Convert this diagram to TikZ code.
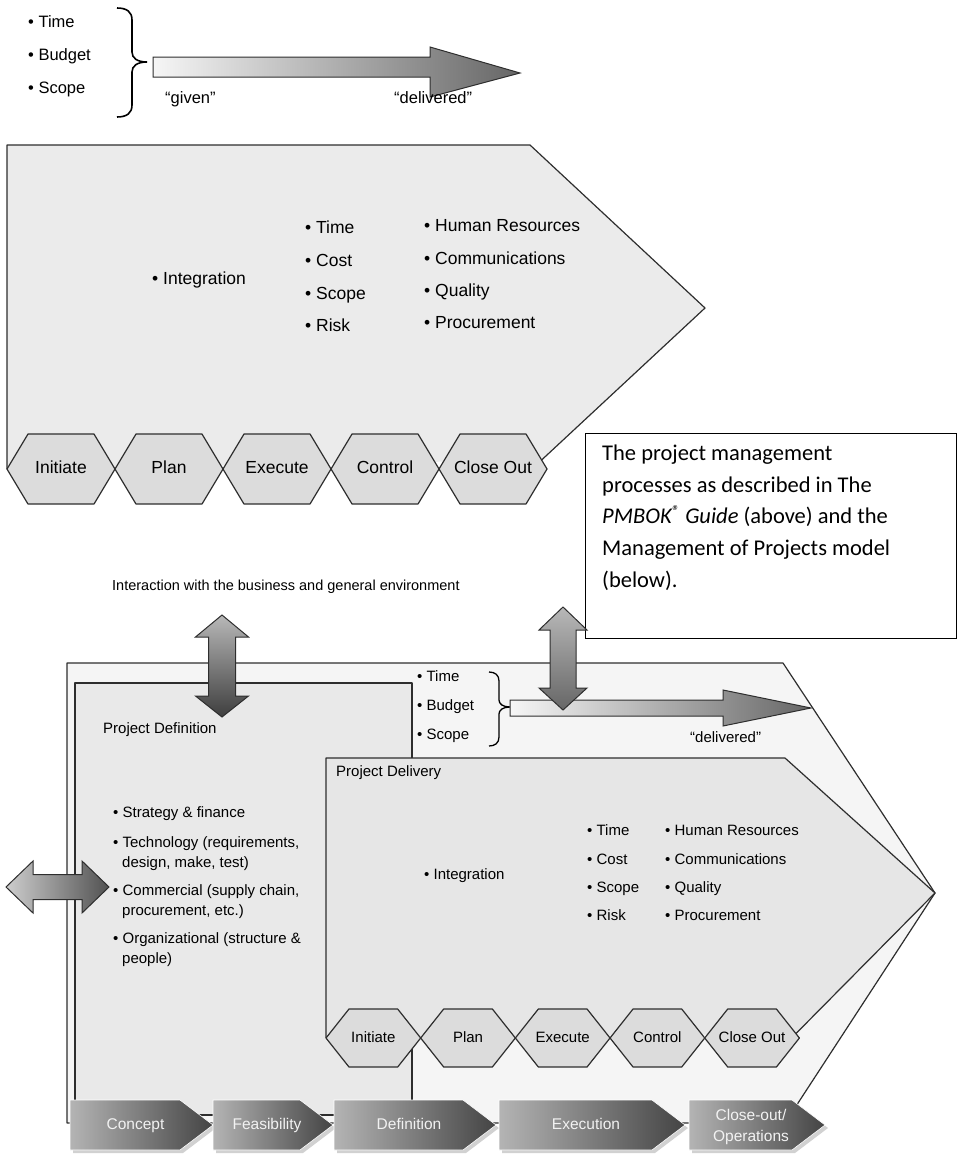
\documentclass[tikz,border=0pt]{standalone}
\usepackage{fontspec}
\setmainfont{Liberation Sans}
\newfontfamily\notefont{Carlito}
\newcommand\setfs[1]{\fontsize{#1}{#1}\selectfont}
\definecolor{edge}{HTML}{2E2E2E}
\definecolor{panel}{HTML}{EBEBEB}
\definecolor{hexfill}{HTML}{DCDCDC}
\definecolor{framefill}{HTML}{F5F5F5}
\definecolor{defbox}{HTML}{E9E9E9}
\definecolor{delfill}{HTML}{E6E6E6}
\definecolor{shaftlight}{HTML}{F6F6F6}
\definecolor{shaftdark}{HTML}{666666}
\definecolor{vlight}{HTML}{B8B8B8}
\definecolor{vdark}{HTML}{3E3E3E}
\definecolor{phaselight}{HTML}{B4B4B4}
\definecolor{phasedark}{HTML}{444444}
\definecolor{phasetext}{HTML}{F2F2F2}
\begin{document}
\begin{tikzpicture}[x=1pt, y=-1pt,
  outline/.style={draw=edge, line width=1.2pt, line join=round},
  hexbox/.style={outline, fill=hexfill},
  blockarrow/.style={draw=edge, line width=1pt, line join=miter},
  bracestroke/.style={draw=black, line width=1.6pt},
  bigtxt/.style={anchor=mid west, inner sep=0pt, font=\setfs{17.5}},
  tbstxt/.style={anchor=mid west, inner sep=0pt, font=\setfs{16.5}},
  smalltxt/.style={anchor=mid west, inner sep=0pt, font=\setfs{15}},
  toplbl/.style={anchor=mid, inner sep=0pt, font=\setfs{17.5}},
  lowlbl/.style={anchor=mid, inner sep=0pt, font=\setfs{15}},
  notetxt/.style={anchor=mid west, inner sep=0pt, font=\notefont\setfs{22.5}},
  phasetxt/.style={inner sep=0pt, align=center, text=phasetext, font=\fontsize{15.5}{21}\selectfont},
]
\useasboundingbox (0,0) rectangle (957,1159);

% ---------- upper model: triple constraint ----------
\node[tbstxt] (tTime)   at (28,25) {\textbullet\ Time};
\node[tbstxt] (tBudget) at (28,58) {\textbullet\ Budget};
\node[tbstxt] (tScope)  at (28,91) {\textbullet\ Scope};
\draw[bracestroke] (117,8) .. controls (127,8) and (132,12) .. (132,20) -- (132,52)
  .. controls (132,58) and (137,62) .. (147,62)
  .. controls (137,62) and (132,66) .. (132,72) -- (132,105)
  .. controls (132,113) and (127,117) .. (117,117);
\path[blockarrow, left color=shaftlight, right color=shaftdark]
  (153,57) -- (430,57) -- (430,47) -- (520,73) -- (430,97) -- (430,77) -- (153,77) -- cycle;
\node[tbstxt] (tGiven) at (165,101) {“given”};
\node[tbstxt] (tDeliv) at (394,101) {“delivered”};

% ---------- upper model: knowledge areas ----------
\fill[panel] (7,469) -- (7,145) -- (530,145) -- (705,308) -- (541.6,460) -- cycle;
\draw[outline] (7,469) -- (7,145) -- (530,145) -- (705,308) -- (541.6,460);
\node[bigtxt] (uInt)  at (152,282) {\textbullet\ Integration};
\node[bigtxt] (uTime) at (305,231) {\textbullet\ Time};
\node[bigtxt] (uCost) at (305,264) {\textbullet\ Cost};
\node[bigtxt] (uScop) at (305,297) {\textbullet\ Scope};
\node[bigtxt] (uRisk) at (305,329) {\textbullet\ Risk};
\node[bigtxt] (uHR)   at (424,229) {\textbullet\ Human Resources};
\node[bigtxt] (uCom)  at (424,262) {\textbullet\ Communications};
\node[bigtxt] (uQual) at (424,294) {\textbullet\ Quality};
\node[bigtxt] (uProc) at (424,326) {\textbullet\ Procurement};
\foreach \txt [count=\i from 0] in {Initiate,Plan,Execute,Control,Close Out}{
  \pgfmathsetmacro\xa{7+108*\i}
  \draw[hexbox] (\xa,469) -- ++(21,-35) -- ++(66,0) -- ++(21,35) -- ++(-21,35) -- ++(-66,0) -- cycle;
  \node[toplbl] (up\i) at (\xa+54,471) {\txt};
}

% ---------- caption box ----------
\node[draw=black, line width=1pt, fill=white, anchor=north west, inner sep=0pt,
      minimum width=371pt, minimum height=205pt] (notebox) at (585,433) {};
\node[notetxt] (n1) at (602,458) {The project management};
\node[notetxt] (n2) at (602,490) {processes as described in The};
\node[notetxt] (n3) at (602,521) {\textit{PMBOK\textsuperscript{®} Guide} (above) and the};
\node[notetxt] (n4) at (602,553) {Management of Projects model};
\node[notetxt] (n5) at (602,585) {(below).};

% ---------- lower model ----------
\node[anchor=mid west, inner sep=0pt, font=\setfs{14.5}] (env) at (112,588)
  {Interaction with the business and general environment};

% outer frame and project definition
\draw[outline, fill=framefill] (67,663) -- (783,663) -- (935,893) -- (785,1123) -- (67,1123) -- cycle;
\draw[outline, fill=defbox] (75,683) rectangle (412,1115);
\node[smalltxt] (pdef) at (103,731) {Project Definition};
\node[smalltxt] (d1)  at (113,815) {\textbullet\ Strategy \& finance};
\node[smalltxt] (d2)  at (113,845) {\textbullet\ Technology (requirements,};
\node[smalltxt] (d2b) at (122,865) {design, make, test)};
\node[smalltxt] (d3)  at (113,893) {\textbullet\ Commercial (supply chain,};
\node[smalltxt] (d3b) at (122,913) {procurement, etc.)};
\node[smalltxt] (d4)  at (113,941) {\textbullet\ Organizational (structure \&};
\node[smalltxt] (d4b) at (122,961) {people)};

% business interaction arrow (left)
\path[blockarrow, top color=vlight, bottom color=vdark]
  (222,615) -- (248.5,637) -- (235.5,637) -- (235.5,696) -- (248.5,696) -- (222,717)
  -- (195.5,696) -- (208.5,696) -- (208.5,637) -- (195.5,637) -- cycle;

% triple constraint of the lower model
\node[smalltxt] (lTime)   at (417,679) {\textbullet\ Time};
\node[smalltxt] (lBudget) at (417,708) {\textbullet\ Budget};
\node[smalltxt] (lScope)  at (417,737) {\textbullet\ Scope};
\draw[bracestroke, line width=1.3pt] (489,672) .. controls (495,672) and (499,675) .. (499,681) -- (499,700)
  .. controls (499,704) and (503,707) .. (510,707)
  .. controls (503,707) and (499,710) .. (499,714) -- (499,737)
  .. controls (499,743) and (495,746) .. (489,746);
\path[blockarrow, left color=shaftlight, right color=shaftdark]
  (510,700) -- (723,700) -- (723,690) -- (811,708) -- (723,726) -- (723,716) -- (510,716) -- cycle;
\node[smalltxt] (lDeliv) at (690,740) {“delivered”};

% business interaction arrow (right)
\path[blockarrow, top color=vlight, bottom color=shaftdark]
  (563,607) -- (587,630) -- (576,630) -- (576,688) -- (587,688) -- (563,710)
  -- (539,688) -- (550,688) -- (550,630) -- (539,630) -- cycle;

% project delivery
\fill[delfill] (326,1038) -- (326,758) -- (785,758) -- (935,893) -- (796,1033.5) -- cycle;
\draw[outline] (326,1038) -- (326,758) -- (785,758) -- (935,893) -- (796,1033.5);
\node[smalltxt] (pdel) at (336,774) {Project Delivery};
\node[smalltxt] (lInt)  at (424,877) {\textbullet\ Integration};
\node[smalltxt] (lT)    at (587,833) {\textbullet\ Time};
\node[smalltxt] (lC)    at (587,862) {\textbullet\ Cost};
\node[smalltxt] (lS)    at (587,890) {\textbullet\ Scope};
\node[smalltxt] (lR)    at (587,918) {\textbullet\ Risk};
\node[smalltxt] (lHR)   at (665,833) {\textbullet\ Human Resources};
\node[smalltxt] (lCom)  at (665,862) {\textbullet\ Communications};
\node[smalltxt] (lQual) at (665,890) {\textbullet\ Quality};
\node[smalltxt] (lProc) at (665,918) {\textbullet\ Procurement};
\foreach \txt [count=\i from 0] in {Initiate,Plan,Execute,Control,Close Out}{
  \pgfmathsetmacro\xb{326+94.68*\i}
  \draw[hexbox] (\xb,1038) -- ++(23,-29) -- ++(48.68,0) -- ++(23,29) -- ++(-23,29) -- ++(-48.68,0) -- cycle;
  \node[lowlbl] (lp\i) at (\xb+47.34,1040) {\txt};
}

% stakeholder interaction arrow (left edge)
\path[blockarrow, left color=vlight!70!white, right color=vdark!90]
  (6,887) -- (33,861) -- (33,874.5) -- (82,874.5) -- (82,861) -- (109,887)
  -- (82,913) -- (82,899.5) -- (33,899.5) -- (33,913) -- cycle;

% life-cycle phases
\foreach \xl/\xr [count=\k] in {70/213, 213/333, 334/496, 499/685, 689/825}{
  \fill[black, opacity=0.18] (\xl+3,1103) -- (\xr-30,1103) -- (\xr+3,1128) -- (\xr-30,1153) -- (\xl+3,1153) -- cycle;
  \path[draw=white, line width=0.6pt, left color=phaselight, right color=phasedark]
    (\xl,1100) -- (\xr-33,1100) -- (\xr,1125) -- (\xr-33,1150) -- (\xl,1150) -- cycle;
  \coordinate (pc\k) at ({(\xl+\xr)/2-6},1127);
}
\node[phasetxt, anchor=mid] (ph1) at (pc1) {Concept};
\node[phasetxt, anchor=mid] (ph2) at (pc2) {Feasibility};
\node[phasetxt, anchor=mid] (ph3) at (pc3) {Definition};
\node[phasetxt, anchor=mid] (ph4) at (pc4) {Execution};
\node[phasetxt] (ph5) at (pc5) {Close-out/\\Operations};
\end{tikzpicture}
\end{document}
